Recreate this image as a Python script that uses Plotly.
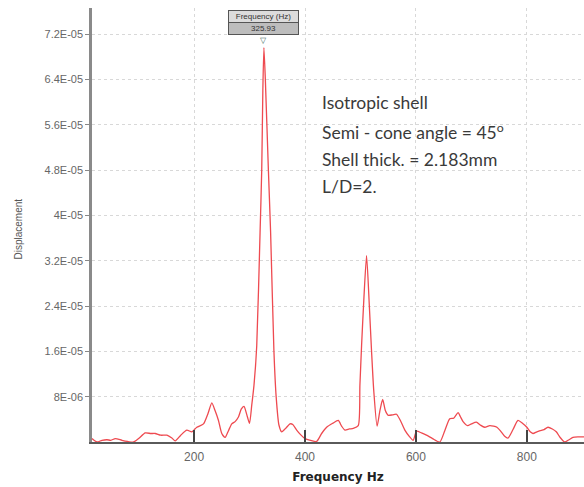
import plotly.graph_objects as go

# ---- data (displacement in units of 1e-6) ----
freq_hz = [16, 25, 34, 43, 50, 58, 70, 80, 91, 100, 112, 122, 130, 140, 151, 160, 166, 176,
           187, 196, 205, 217, 225, 232, 238, 244, 250, 256, 262, 268, 274, 280, 285, 290, 296,
           300, 304, 308, 313, 319, 322, 324, 325.93, 328.5, 334, 338, 344, 348, 353, 358, 365,
           373, 378, 385, 392, 400, 410, 421, 430, 439, 450, 460, 466, 472, 480, 487, 496, 499,
           502, 506, 511, 516, 520, 524, 530, 535, 540, 545, 550, 558, 565, 572, 580, 588, 595,
           601, 610, 619, 630, 643, 652, 661, 668, 676, 680, 685, 693, 700, 709, 716, 724, 733,
           740, 746, 752, 760, 766, 775, 784, 792, 800, 806, 811, 818, 824, 831, 838, 846, 853,
           860, 868, 876, 883, 892, 903]
disp_micro = [0.6, 0.0, 0.3, 0.4, 0.3, 0.6, 0.3, 0.1, 0.0, 0.6, 1.6, 1.5, 1.5, 1.2, 1.2, 0.7, 0.2, 1.2,
              2.1, 1.8, 2.6, 3.2, 5.0, 6.9, 5.5, 3.8, 1.5, 0.8, 2.0, 3.2, 3.6, 4.4, 5.8, 6.3, 4.5,
              3.3, 6.5, 10.0, 17.0, 37.0, 48.0, 62.0, 69.6, 64.0, 48.0, 37.0, 16.0, 8.0, 3.0, 1.8, 2.4,
              3.2, 3.1, 2.1, 1.3, 0.6, 0.3, 0.1, 1.5, 2.6, 3.3, 3.8, 2.8, 2.1, 2.3, 2.4, 2.9, 10.0,
              17.0, 25.0, 32.9, 24.0, 16.0, 9.0, 2.8, 5.5, 7.5, 5.5, 4.7, 4.8, 4.9, 3.8, 2.1, 1.0, 0.3,
              1.9, 1.6, 1.2, 0.6, 0.0, 2.0, 4.1, 4.2, 5.2, 4.5, 3.6, 2.9, 3.2, 3.5, 3.0, 2.6, 2.9,
              2.8, 2.6, 2.0, 1.0, 0.7, 2.2, 3.8, 3.3, 2.6, 1.8, 1.5, 1.8, 2.0, 2.2, 2.6, 2.3, 1.8,
              0.8, 0.0, 0.4, 0.8, 0.9, 0.9]
SCALE = 1e-6
disp = [v * SCALE for v in disp_micro]

y_tickvals = [8e-6, 1.6e-5, 2.4e-5, 3.2e-5, 4e-5, 4.8e-5, 5.6e-5, 6.4e-5, 7.2e-5]
y_ticktext = ["8E-06", "1.6E-05", "2.4E-05", "3.2E-05", "4E-05", "4.8E-05", "5.6E-05", "6.4E-05", "7.2E-05"]
x_tickvals = [200, 400, 600, 800]

peak_freq = 325.93
peak_label = "325.93"
peak_val = disp[freq_hz.index(peak_freq)]

info_lines = ["Isotropic shell", "Semi - cone angle = 45<sup>o</sup>",
              "Shell thick. = 2.183mm", "L/D=2."]

fig = go.Figure()
fig.add_trace(go.Scatter(x=freq_hz, y=disp, mode="lines",
                         line=dict(color="#ee4a50", width=1.3, shape="spline", smoothing=0.6),
                         hoverinfo="skip"))

fig.update_layout(
    width=584, height=487,
    margin=dict(l=92, r=0, t=8, b=45),
    paper_bgcolor="white", plot_bgcolor="white",
    showlegend=False,
    font=dict(family="Liberation Sans, Arial", color="#666"),
)
fig.update_xaxes(
    range=[16, 903], tickvals=x_tickvals,
    showgrid=True, gridcolor="#d8d8d8", griddash="dot", gridwidth=1,
    showline=True, linecolor="#5a5a5a", linewidth=2,
    ticks="inside", ticklen=12, tickwidth=2, tickcolor="#444",
    tickfont=dict(size=12, color="#666"), ticklabelstandoff=3,
    title=dict(text="<b>Frequency Hz</b>", font=dict(family="DejaVu Sans", size=12, color="#222"), standoff=9),
    zeroline=False,
)
fig.update_yaxes(
    range=[0, 7.66e-5], tickvals=y_tickvals, ticktext=y_ticktext,
    showgrid=True, gridcolor="#d8d8d8", griddash="dot", gridwidth=1,
    showline=True, linecolor="#8a8a8a", linewidth=2.5,
    ticks="outside", ticklen=4, tickwidth=1, tickcolor="#888",
    tickfont=dict(size=11, color="#666"),
    zeroline=False,
)

# y-axis title
fig.add_annotation(xref="paper", yref="paper", x=-0.150, y=0.49, text="Displacement",
                   textangle=-90, showarrow=False, font=dict(size=10, color="#555"),
                   xanchor="center", yanchor="middle")

# peak readout box
fig.add_annotation(x=peak_freq, y=peak_val, xref="x", yref="y", text="Frequency (Hz)",
                   showarrow=False, yshift=31, font=dict(size=8, color="#333"),
                   bgcolor="#dcdcdc", bordercolor="#555", borderwidth=1, borderpad=1,
                   width=67, yanchor="middle")
fig.add_annotation(x=peak_freq, y=peak_val, xref="x", yref="y", text=peak_label,
                   showarrow=False, yshift=19, font=dict(size=8, color="#333"),
                   bgcolor="#bdbdbd", bordercolor="#555", borderwidth=1, borderpad=1,
                   width=67, yanchor="middle")
fig.add_annotation(x=peak_freq, y=peak_val, xref="x", yref="y", text="▽",
                   showarrow=False, yshift=7, font=dict(size=8, color="#3d6b5e"),
                   yanchor="middle")

# info text
line_px = [102.7, 131.7, 159.0, 186.7]
for txt, py in zip(info_lines, line_px):
    fig.add_annotation(xref="paper", yref="paper", x=(320 - 92) / 492,
                       y=(441.7 - py) / (441.7 - 8), text=txt, showarrow=False,
                       xanchor="left", yanchor="middle",
                       font=dict(family="Lato", size=17.5, color="#3a3a3a"))

fig.write_html("out.html", config={"displayModeBar": False},
               post_script="document.body.style.margin='0';")
